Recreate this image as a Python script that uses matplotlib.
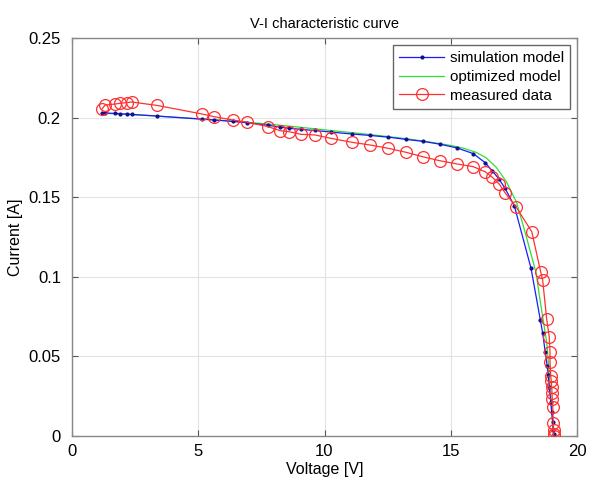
import matplotlib
matplotlib.use("Agg")
import matplotlib.pyplot as plt

plt.rcParams['font.family'] = ['Liberation Sans', 'DejaVu Sans']

# Measured data (red circles)
V_meas = [1.18, 1.31, 1.70, 1.90, 2.17, 2.36, 3.35, 5.14, 5.62, 6.36, 6.92,
          7.77, 8.24, 8.61, 9.07, 9.62, 10.25, 11.08, 11.80, 12.53, 13.23,
          13.89, 14.57, 15.24, 15.89, 16.36, 16.62, 16.92, 17.15, 17.58,
          18.21, 18.56, 18.64, 18.80, 18.90, 18.93, 18.93, 18.96, 18.98,
          19.00, 19.01, 19.02, 19.04, 19.06, 19.08, 19.08, 19.08]
I_meas = [0.2052, 0.2079, 0.2085, 0.2090, 0.2094, 0.2098, 0.2077, 0.2023,
          0.2006, 0.1985, 0.1972, 0.1943, 0.1918, 0.1911, 0.1895, 0.1891,
          0.1870, 0.1845, 0.1828, 0.1807, 0.1782, 0.1754, 0.1729, 0.1709,
          0.1692, 0.1660, 0.1629, 0.1583, 0.1528, 0.1440, 0.1283, 0.1032,
          0.0980, 0.0733, 0.0624, 0.0529, 0.0466, 0.0377, 0.0347, 0.0306,
          0.0268, 0.0230, 0.0184, 0.0080, 0.0038, 0.0010, 0.0000]

# Simulation model (blue line with dots)
V_sim = [1.18, 1.31, 1.70, 1.90, 2.17, 2.36, 3.35, 5.14, 5.62, 6.36, 6.92,
         7.77, 8.24, 8.61, 9.07, 9.62, 10.25, 11.08, 11.80, 12.53, 13.23,
         13.89, 14.57, 15.24, 15.89, 16.36, 16.64, 16.92, 17.15, 17.52,
         18.18, 18.55, 18.64, 18.74, 18.82, 18.86, 18.90, 18.96, 19.00,
         19.04, 19.06, 19.08]
I_sim = [0.2030, 0.2029, 0.2026, 0.2024, 0.2022, 0.2020, 0.2010, 0.1990,
         0.1985, 0.1976, 0.1968, 0.1952, 0.1940, 0.1933, 0.1926, 0.1919,
         0.1909, 0.1897, 0.1888, 0.1877, 0.1863, 0.1851, 0.1833, 0.1810,
         0.1774, 0.1717, 0.1667, 0.1612, 0.1556, 0.1445, 0.1053, 0.0727,
         0.0647, 0.0530, 0.0440, 0.0385, 0.0310, 0.0215, 0.0150, 0.0085,
         0.0040, 0.0010]

# Optimized model (green line)
V_opt = [1.18, 2.0, 3.0, 4.0, 5.0, 6.0, 7.0, 8.0, 9.0, 10.0, 11.0, 12.0,
         13.0, 14.0, 15.0, 15.5, 16.0, 16.4, 16.8, 17.2, 17.6, 17.94, 18.2,
         18.38, 18.5, 18.65, 18.8, 18.89, 18.97, 19.03, 19.07]
I_opt = [0.2028, 0.2022, 0.2013, 0.2003, 0.1993, 0.1982, 0.1970, 0.1956,
         0.1940, 0.1923, 0.1907, 0.1890, 0.1872, 0.1851, 0.1825, 0.1808,
         0.1782, 0.1748, 0.1688, 0.1598, 0.1470, 0.1283, 0.1130, 0.1025,
         0.0890, 0.0740, 0.0590, 0.0420, 0.0220, 0.0080, 0.0000]

x_ticks = [0, 5, 10, 15, 20]
y_ticks = [0, 0.05, 0.1, 0.15, 0.2, 0.25]
y_ticklabels = ['0', '0.05', '0.1', '0.15', '0.2', '0.25']

fig = plt.figure(figsize=(5.9, 4.79), dpi=100)
ax = fig.add_axes([72/590, 1 - 436/479, (577-72)/590, (436-38)/479])

ax.plot(V_sim, I_sim, color='#1a1aff', lw=0.9, marker='.', markersize=4,
        markerfacecolor='#101090', markeredgecolor='#101090',
        label='simulation model', zorder=3)
ax.plot(V_opt, I_opt, color='#33dd33', lw=0.9, label='optimized model', zorder=2)
ax.plot(V_meas, I_meas, color='#ff3030', lw=0.9, marker='o', markersize=8.5,
        markerfacecolor='none', markeredgecolor='#ff3030', markeredgewidth=0.9,
        label='measured data', zorder=4)

ax.set_xlim(0, 20)
ax.set_ylim(0, 0.25)
ax.set_xticks(x_ticks)
ax.set_yticks(y_ticks)
ax.set_yticklabels(y_ticklabels)
ax.grid(True, color='#e2e2e2', lw=0.8)
ax.set_axisbelow(True)
ax.tick_params(direction='in', top=True, right=True, labelsize=12,
               color='#555555', length=4)
ax.tick_params(axis='y', pad=8)
ax.tick_params(axis='x', pad=6)
for s in ax.spines.values():
    s.set_color('#888888')
    s.set_linewidth(1.0)

ax.set_title('V-I characteristic curve', fontsize=10.5, pad=7)
ax.set_xlabel('Voltage [V]', fontsize=11.5, labelpad=2)
ax.set_ylabel('Current [A]', fontsize=11.5, labelpad=4)

leg = ax.legend(loc='upper right', fontsize=11, fancybox=False,
                framealpha=1, edgecolor='#666666', handlelength=2.9,
                borderpad=0.4, labelspacing=0.32, handletextpad=0.4,
                borderaxespad=0.45)
leg.get_frame().set_linewidth(1.0)

fig.savefig('out.png', dpi=100)
